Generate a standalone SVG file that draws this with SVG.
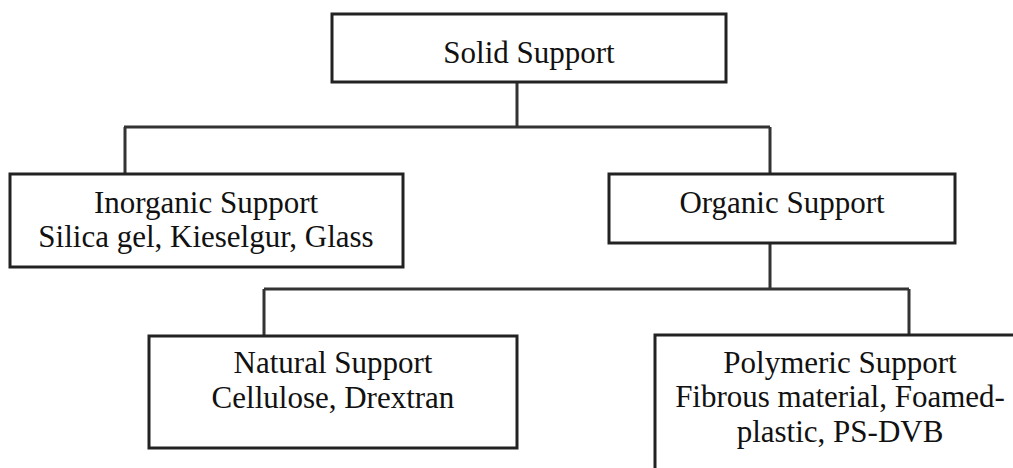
<svg xmlns="http://www.w3.org/2000/svg" width="1013" height="468" viewBox="0 0 1013 468">
<style>
.box{fill:#fff;stroke:#222;stroke-width:3}
.t{font-family:'Liberation Serif',Tinos,'Times New Roman',Times,'DejaVu Serif',serif;font-size:31px;fill:#111;text-anchor:middle}
.c{fill:none;stroke:#333;stroke-width:3}
</style>
<rect width="1013" height="468" fill="#fff"/>
<g id="connectors">
<path class="c" d="M517 82V127M124 127H770M125 127V174M770 127V174"/>
<path class="c" d="M770 243V289M264 289H909M264 289V336M909 289V335"/>
</g>
<g id="solid">
<rect class="box" x="332" y="14" width="394" height="68"/>
<text class="t" x="529" y="63">Solid Support</text>
</g>
<g id="inorganic">
<rect class="box" x="10" y="174" width="393" height="93"/>
<text class="t" x="206" y="213">Inorganic Support</text>
<text class="t" x="206" y="247">Silica gel, Kieselgur, Glass</text>
</g>
<g id="organic">
<rect class="box" x="609" y="174" width="346" height="69"/>
<text class="t" x="782" y="213">Organic Support</text>
</g>
<g id="natural">
<rect class="box" x="149" y="336" width="368" height="112"/>
<text class="t" x="333" y="373">Natural Support</text>
<text class="t" x="333" y="408">Cellulose, Drextran</text>
</g>
<g id="polymeric">
<rect class="box" x="655" y="335" width="400" height="200"/>
<text class="t" x="840" y="373">Polymeric Support</text>
<text class="t" x="840" y="407">Fibrous material, Foamed-</text>
<text class="t" x="840" y="442">plastic, PS-DVB</text>
</g>
</svg>
